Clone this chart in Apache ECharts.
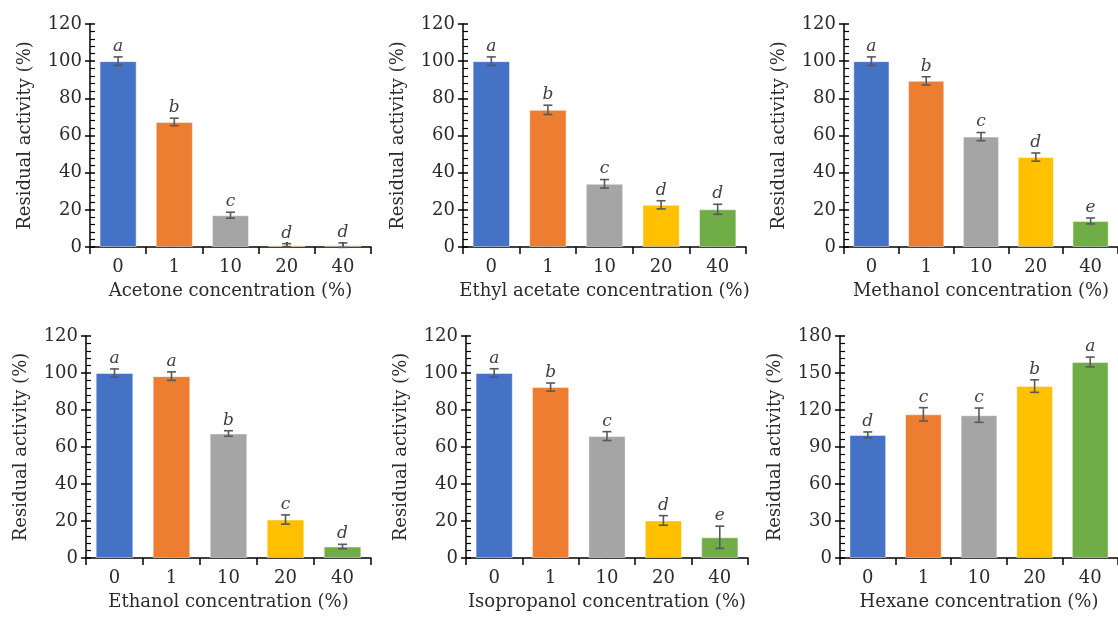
<!DOCTYPE html>
<html>
<head>
<meta charset="utf-8">
<script src="https://cdn.jsdelivr.net/npm/echarts@6/dist/echarts.min.js"></script>
<style>
  html, body { margin: 0; padding: 0; background: #fff; }
  #main { width: 1118px; height: 624px; }
</style>
</head>
<body>
<div id="main"></div>
<script>
// concentrations on the x axis
var categories = ['0', '1', '10', '20', '40'];

// residual activity (%), with error and letters
var acetone = [100, 67.3, 17.1, 1.0, 1.0];
var acetoneErr = [2.3, 2.0, 1.6, 0.8, 1.2];
var acetoneSig = ['a', 'b', 'c', 'd', 'd'];

var ethylAcetate = [100, 73.8, 34.0, 22.7, 20.3];
var ethylAcetateErr = [2.3, 2.5, 2.3, 2.2, 2.7];
var ethylAcetateSig = ['a', 'b', 'c', 'd', 'd'];

var methanol = [100, 89.4, 59.4, 48.4, 14.0];
var methanolErr = [2.3, 2.2, 2.2, 2.2, 1.6];
var methanolSig = ['a', 'b', 'c', 'd', 'e'];

var ethanol = [100, 98.3, 67.3, 20.8, 6.2];
var ethanolErr = [2.2, 2.3, 1.5, 2.5, 1.2];
var ethanolSig = ['a', 'a', 'b', 'c', 'd'];

var isopropanol = [100, 92.4, 65.9, 20.3, 11.2];
var isopropanolErr = [2.3, 2.2, 2.4, 2.6, 6.0];
var isopropanolSig = ['a', 'b', 'c', 'd', 'e'];

var hexane = [99.8, 116.5, 115.8, 139.4, 158.9];
var hexaneErr = [2.4, 5.4, 5.8, 5.1, 4.0];
var hexaneSig = ['d', 'c', 'c', 'b', 'a'];

var barColors = ['#4472C4', '#ED7D31', '#A5A5A5', '#FFC000', '#70AD47'];

var panels = [
  { title: 'Acetone concentration (%)', mean: acetone, err: acetoneErr, sig: acetoneSig, max: 120, step: 20, left: 90, top: 24, width: 281, height: 223 },
  { title: 'Ethyl acetate concentration (%)', mean: ethylAcetate, err: ethylAcetateErr, sig: ethylAcetateSig, max: 120, step: 20, left: 463, top: 24, width: 283, height: 223 },
  { title: 'Methanol concentration (%)', mean: methanol, err: methanolErr, sig: methanolSig, max: 120, step: 20, left: 844, top: 24, width: 282, height: 223 },
  { title: 'Ethanol concentration (%)', mean: ethanol, err: ethanolErr, sig: ethanolSig, max: 120, step: 20, left: 86, top: 336, width: 285, height: 222 },
  { title: 'Isopropanol concentration (%)', mean: isopropanol, err: isopropanolErr, sig: isopropanolSig, max: 120, step: 20, left: 466, top: 336, width: 282, height: 222 },
  { title: 'Hexane concentration (%)', mean: hexane, err: hexaneErr, sig: hexaneSig, max: 180, step: 30, left: 840, top: 336, width: 283, height: 222 }
];

var font = 'DejaVu Serif';
var textColor = '#2b2b2b';

var myChart = echarts.init(document.getElementById('main'));

var grid = [], xAxis = [], yAxis = [], series = [];

panels.forEach(function (p, i) {
  grid.push({ left: p.left, top: p.top, width: p.width, height: p.height, containLabel: false });

  // main x axis: boundary ticks pointing down, labels and name
  xAxis.push({
    type: 'category', gridIndex: i, data: categories, position: 'bottom',
    axisLine: { onZero: false, lineStyle: { color: '#000', width: 1.5 } },
    axisTick: { show: true, alignWithLabel: false, length: 7, lineStyle: { color: '#000', width: 1.5 } },
    axisLabel: { color: textColor, fontFamily: font, fontSize: 18, margin: 11 },
    name: p.title, nameLocation: 'middle', nameGap: 35,
    nameTextStyle: { color: textColor, fontFamily: font, fontSize: 18 }
  });
  // second x axis: short ticks at bar centres, pointing up
  xAxis.push({
    type: 'category', gridIndex: i, data: categories, position: 'bottom',
    axisLine: { show: false, onZero: false },
    axisTick: { show: true, inside: true, alignWithLabel: true, length: 5, lineStyle: { color: '#000', width: 1.5 } },
    axisLabel: { show: false }
  });

  // main y axis: labels, name, outward major ticks
  yAxis.push({
    type: 'value', gridIndex: i, min: 0, max: p.max, interval: p.step, position: 'left',
    axisLine: { show: true, lineStyle: { color: '#000', width: 1.5 } },
    axisTick: { show: true, length: 5, lineStyle: { color: '#000', width: 1.5 } },
    axisLabel: { color: textColor, fontFamily: font, fontSize: 18, margin: 8 },
    splitLine: { show: false },
    name: 'Residual activity (%)', nameLocation: 'middle', nameGap: 56,
    nameTextStyle: { color: textColor, fontFamily: font, fontSize: 18 }
  });
  // second y axis: inward major + minor ticks
  yAxis.push({
    type: 'value', gridIndex: i, min: 0, max: p.max, interval: p.step, position: 'left',
    axisLine: { show: false },
    axisTick: { show: true, inside: true, length: 5, lineStyle: { color: '#000', width: 1.5 } },
    minorTick: { show: true, splitNumber: 5, length: 5, lineStyle: { color: '#000', width: 1.2 } },
    axisLabel: { show: false },
    splitLine: { show: false }
  });

  series.push({
    type: 'bar', xAxisIndex: 2 * i, yAxisIndex: 2 * i,
    barWidth: '66%',
    data: p.mean.map(function (v, k) {
      return { value: v, itemStyle: { color: barColors[k] } };
    }),
    itemStyle: { borderColor: 'rgba(255,255,255,0.45)', borderWidth: 1 },
    silent: true, z: 2
  });

  series.push({
    type: 'custom', xAxisIndex: 2 * i, yAxisIndex: 2 * i,
    data: p.mean.map(function (v, k) { return [k, v, p.err[k]]; }),
    renderItem: function (params, api) {
      var k = api.value(0), m = api.value(1), e = api.value(2);
      var hi = api.coord([k, m + e]);
      var lo = api.coord([k, m - e]);
      var cap = 4.5;
      var st = { stroke: '#595959', lineWidth: 1.6 };
      return {
        type: 'group',
        children: [
          { type: 'line', shape: { x1: hi[0], y1: hi[1], x2: lo[0], y2: lo[1] }, style: st },
          { type: 'line', shape: { x1: hi[0] - cap, y1: hi[1], x2: hi[0] + cap, y2: hi[1] }, style: st },
          { type: 'line', shape: { x1: lo[0] - cap, y1: lo[1], x2: lo[0] + cap, y2: lo[1] }, style: st },
          {
            type: 'text',
            style: {
              text: p.sig[params.dataIndex], x: hi[0], y: hi[1] - 2,
              align: 'center', verticalAlign: 'bottom',
              font: 'italic 17px "DejaVu Serif"', fill: '#404040'
            }
          }
        ]
      };
    },
    silent: true, z: 5
  });
});

myChart.setOption({
  animation: false,
  grid: grid,
  xAxis: xAxis,
  yAxis: yAxis,
  series: series
});
</script>
</body>
</html>
